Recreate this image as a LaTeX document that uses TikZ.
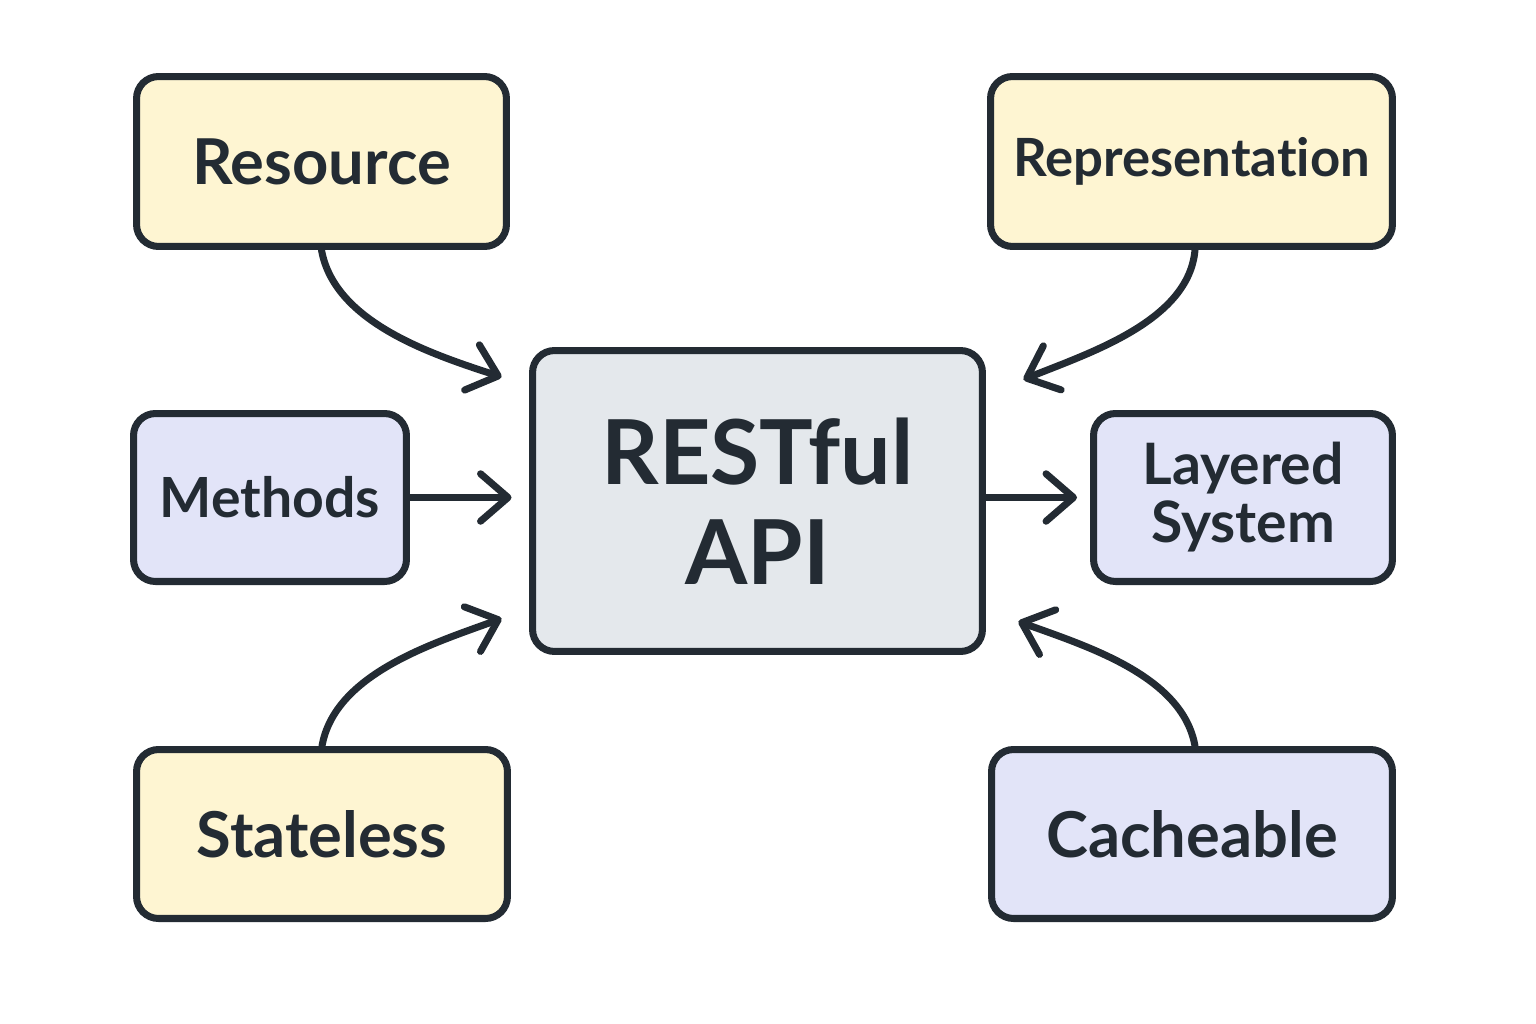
\documentclass[tikz,border=0pt]{standalone}
\usepackage{fontspec}
\setmainfont[Ligatures=NoCommon]{Lato}
\usetikzlibrary{arrows.meta,positioning}
\definecolor{ink}{HTML}{232B33}
\definecolor{sand}{HTML}{FEF5D2}
\definecolor{lilac}{HTML}{E2E4F8}
\definecolor{slate}{HTML}{E4E8EC}
\begin{document}
\begin{tikzpicture}[x=0.02cm,y=-0.02cm,line width=4pt,draw=ink,text=ink,>={Straight Barb[length=5.5mm,width=9.5mm,round]},box/.style={draw=ink, rounded corners=0.44cm, line width=4pt, align=center, inner sep=0pt, font=\bfseries\fontsize{30}{32}\selectfont},big/.style={box, font=\bfseries\fontsize{36}{40}\selectfont},link/.style={->, draw=ink, line width=4pt, line cap=round}]
\useasboundingbox (0,0) rectangle (1536,1024);
\node[big, fill=sand, minimum width=7.4cm, minimum height=3.4cm] (resource) at (321.5,161.5) {Resource};
\node[box, fill=sand, minimum width=8.04cm, minimum height=3.4cm] (repr) at (1191.5,161.5) {Representation};
\node[box, fill=lilac, minimum width=5.46cm, minimum height=3.36cm, font=\bfseries\fontsize{31.5}{34}\selectfont] (methods) at (270,497.5) {Methods};
\node[box, fill=slate, minimum width=9cm, minimum height=6.02cm, font=\bfseries\fontsize{51}{57}\selectfont] (api) at (757.5,501) {RESTful\\API};
\node[box, fill=lilac, minimum width=5.98cm, minimum height=3.36cm, font=\bfseries\fontsize{32.5}{33}\selectfont] (layered) at (1243,497.5) {Layered\\System};
\node[big, fill=sand, minimum width=7.42cm, minimum height=3.38cm] (stateless) at (322,834) {Stateless};
\node[big, fill=lilac, minimum width=8.02cm, minimum height=3.38cm] (cache) at (1192,834) {Cacheable};
% arrow ends near the corners of the central box
\coordinate (nw) at ([shift={(-0.55cm,-0.6cm)}]api.north west);
\coordinate (ne) at ([shift={(0.75cm,-0.65cm)}]api.north east);
\coordinate (sw) at ([shift={(-0.55cm,0.73cm)}]api.south west);
\coordinate (se) at ([shift={(0.65cm,0.67cm)}]api.south east);
\draw[link] (resource.south) to[out=-80, in=162, looseness=0.85] (nw);
\draw[link] ([xshift=0.07cm]repr.south) to[out=-95, in=22, looseness=0.85] (ne);
\draw[link] (stateless.north) to[out=80, in=-160, looseness=0.85] (sw);
\draw[link] ([xshift=0.06cm]cache.north) to[out=100, in=-20, looseness=0.85] (se);
\draw[link, shorten >=0.35cm] (methods.east) -- (methods.east -| api.west);
\draw[link, shorten >=0.26cm] (api.east |- methods.east) -- (layered.west);
\end{tikzpicture}
\end{document}
